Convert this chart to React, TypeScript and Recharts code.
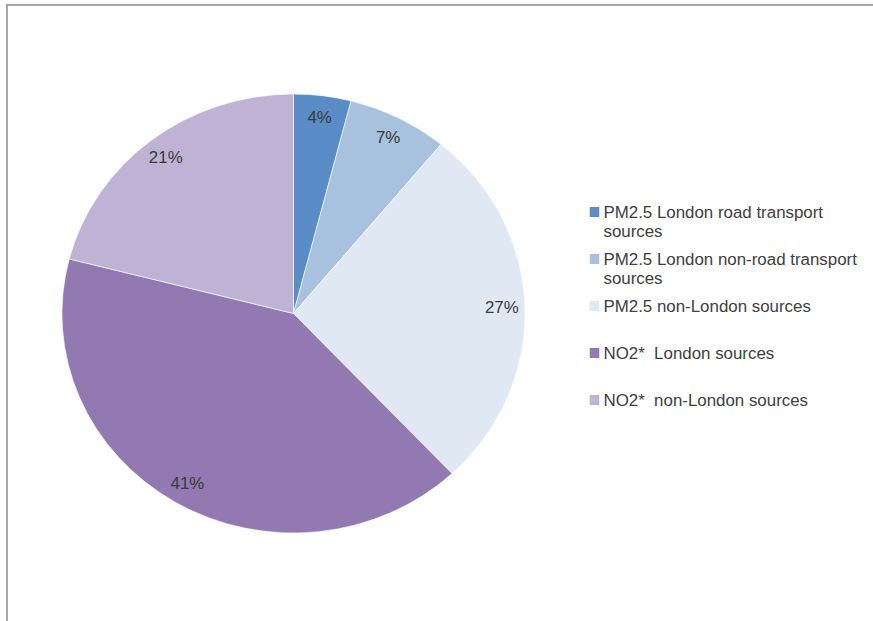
import { PieChart, Pie, Cell } from "recharts";

// the source picture is stretched horizontally, so we draw narrow and scale x
const STRETCH = 1.055;
const WIDTH = 873 / STRETCH;
const HEIGHT = 621;

const categories = [
  "PM2.5 London road transport sources",
  "PM2.5 London non-road transport sources",
  "PM2.5 non-London sources",
  "NO2*  London sources",
  "NO2*  non-London sources",
];

const shares = [4, 7, 27, 41, 21];

const colors = ["#5A8DC7", "#A7C1DF", "#E0E8F4", "#9279B1", "#BFB3D5"];

const data = categories.map((name, i) => ({ name, value: shares[i] }));

const FONT = "'Liberation Sans', Arial, sans-serif";
const RADIAN = Math.PI / 180;

const renderLabel = (props: any) => {
  const { cx, cy, midAngle, outerRadius, value } = props;
  const r = outerRadius * 0.9;
  const x = cx + r * Math.cos(-midAngle * RADIAN);
  const y = cy + r * Math.sin(-midAngle * RADIAN);
  return (
    <text
      x={x}
      y={y}
      textAnchor="middle"
      dominantBaseline="central"
      fill="#3a3a3a"
      fontSize={16}
      fontFamily={FONT}
    >
      {`${value}%`}
    </text>
  );
};

// legend drawn by hand, same order as the data
const ChartLegend = () => (
  <div
    style={{
      position: "absolute",
      left: 559,
      top: 203,
      width: 272,
      fontFamily: FONT,
    }}
  >
    {data.map((d, i) => (
      <div
        key={`leg-${i}`}
        style={{ height: 47, display: "flex", alignItems: "flex-start" }}
      >
        <span
          style={{
            display: "inline-block",
            width: 9,
            height: 10,
            marginTop: 4,
            marginRight: 4,
            flex: "0 0 auto",
            backgroundColor: colors[i],
          }}
        />
        <span
          style={{
            fontSize: 16,
            lineHeight: "19px",
            color: "#404040",
            width: 258,
            whiteSpace: "pre-wrap",
          }}
        >
          {d.name}
        </span>
      </div>
    ))}
  </div>
);

export default function App() {
  return (
    <div
      style={{
        position: "absolute",
        left: 0,
        top: 0,
        width: 873,
        height: 621,
        overflow: "hidden",
        background: "#fff",
      }}
    >
      {/* frame */}
      <div
        style={{
          position: "absolute",
          left: 6,
          top: 4,
          width: 900,
          height: 700,
          borderLeft: "2px solid #a6a6a6",
          borderTop: "2px solid #a6a6a6",
        }}
      />
      <div
        style={{
          position: "absolute",
          left: 0,
          top: 0,
          width: WIDTH,
          height: HEIGHT,
          transform: `scaleX(${STRETCH})`,
          transformOrigin: "0 0",
        }}
      >
        <PieChart
          width={WIDTH}
          height={HEIGHT}
          margin={{ top: 0, right: 0, bottom: 0, left: 0 }}
        >
          <Pie
            data={data}
            dataKey="value"
            nameKey="name"
            cx={278.2}
            cy={313.5}
            outerRadius={219.5}
            startAngle={90}
            endAngle={-270}
            stroke="#ffffff"
            strokeWidth={0.6}
            label={renderLabel}
            labelLine={false}
            isAnimationActive={false}
          >
            {data.map((d, i) => (
              <Cell key={`cell-${d.name}`} fill={colors[i]} />
            ))}
          </Pie>
        </PieChart>
        <ChartLegend />
      </div>
    </div>
  );
}
